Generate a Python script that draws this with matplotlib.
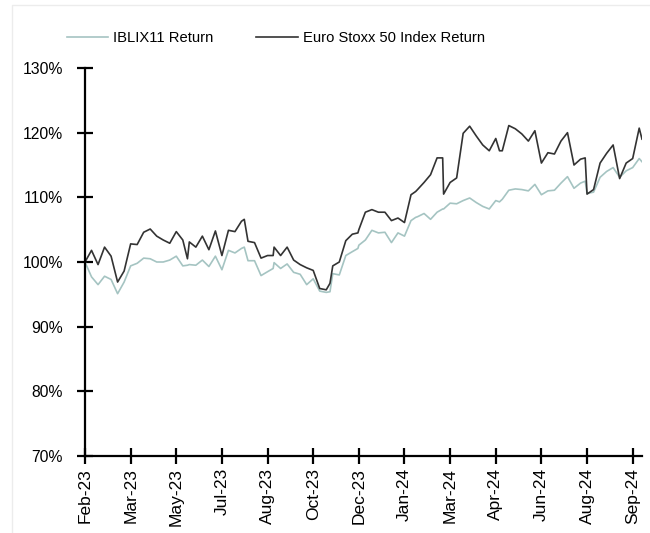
import numpy as np
import pandas as pd
import matplotlib
matplotlib.use("Agg")
import matplotlib.pyplot as plt
import matplotlib.dates as mdates
from matplotlib.ticker import PercentFormatter, MultipleLocator
from matplotlib.patches import Rectangle

plt.rcParams['font.family'] = ['Liberation Sans', 'DejaVu Sans']

# --- weekly (Friday) observations, % of start value ---
week_start = '2023-02-10'
n_weeks = 86

iblix_weekly = [
    100.0, 97.7, 96.5, 97.8, 97.3, 95.1, 96.9, 99.4, 99.8, 100.6,
    100.5, 100.0, 100.0, 100.3, 100.9, 99.4, 99.6, 99.5, 100.3, 99.3,
    100.9, 98.8, 101.8, 101.4, 102.1, 100.2, 100.2, 97.9, 98.5, 99.9,
    99.0, 99.7, 98.4, 98.1, 96.5, 97.4, 95.5, 95.3, 98.2, 98.0,
    101.0, 101.6, 102.6, 103.4, 104.9, 104.5, 104.6, 103.0, 104.5, 104.0,
    106.4, 107.0, 107.5, 106.6, 107.7, 108.2, 109.1, 109.0, 109.5, 109.9,
    109.2, 108.6, 108.2, 109.5, 109.7, 111.1, 111.3, 111.2, 111.0, 112.0,
    110.4, 111.0, 111.1, 112.2, 113.2, 111.4, 112.2, 110.6, 110.8, 113.1,
    114.0, 114.6, 113.1, 114.1, 114.6, 116.0,
]

stoxx_weekly = [
    100.0, 101.8, 99.6, 102.3, 100.9, 96.9, 98.6, 102.8, 102.7, 104.6,
    105.1, 104.0, 103.4, 102.9, 104.7, 103.4, 103.1, 102.3, 104.0, 101.9,
    104.8, 101.0, 104.9, 104.7, 106.3, 103.2, 103.0, 100.6, 101.0, 102.3,
    101.0, 102.3, 100.3, 99.6, 99.1, 98.7, 95.9, 95.7, 99.4, 100.0,
    103.3, 104.3, 105.0, 107.7, 108.1, 107.7, 107.7, 106.4, 106.8, 106.1,
    110.4, 111.2, 112.3, 113.5, 116.1, 110.5, 112.3, 113.0, 119.9, 121.0,
    119.5, 118.1, 117.2, 119.1, 117.2, 121.1, 120.6, 119.8, 118.7, 120.3,
    115.3, 116.9, 116.7, 118.7, 120.0, 115.0, 115.9, 110.5, 111.2, 115.3,
    116.8, 118.1, 112.9, 115.3, 116.0, 120.7,
]

# --- month-end observations that fall between Fridays ---
month_end_dates = [
    '2023-05-31', '2023-07-31', '2023-08-31', '2023-10-31', '2023-11-30',
    '2024-01-31', '2024-02-29', '2024-04-30', '2024-07-31', '2024-09-30',
]
iblix_month_end = [99.5, 102.3, 99.0, 95.4, 102.1, 106.9, 108.2, 109.3, 112.5, 115.5]
stoxx_month_end = [100.5, 106.6, 101.0, 96.7, 104.5, 110.9, 116.1, 117.2, 116.1, 119.0]

week_dates = pd.date_range(week_start, periods=n_weeks, freq='7D')

df = pd.concat([
    pd.DataFrame({'date': week_dates, 'iblix': iblix_weekly, 'stoxx': stoxx_weekly}),
    pd.DataFrame({'date': pd.to_datetime(month_end_dates),
                  'iblix': iblix_month_end, 'stoxx': stoxx_month_end}),
]).sort_values('date').reset_index(drop=True)

tick_dates = week_dates[::7]

fig = plt.figure(figsize=(6.5, 5.33), dpi=100)
fig.patches.append(Rectangle((12 / 650, -0.1), 1.2, 1 - 5 / 533 + 0.1,
                             transform=fig.transFigure, fill=False,
                             edgecolor='#ececec', linewidth=1.0, zorder=0))

ax = fig.add_axes([85 / 650, 1 - 456 / 533, (642 - 85) / 650, (456 - 68) / 533])

ax.plot(df['date'], df['iblix'], color='#a5c4c2', lw=1.2, label='IBLIX11 Return')
ax.plot(df['date'], df['stoxx'], color='#333333', lw=1.2, label='Euro Stoxx 50 Index Return')

ax.set_ylim(70, 130)
ax.yaxis.set_major_locator(MultipleLocator(10))
ax.yaxis.set_major_formatter(PercentFormatter(xmax=100, decimals=0))
ax.set_xlim(week_dates[0], pd.Timestamp('2024-09-30'))
ax.set_xticks(tick_dates)
ax.xaxis.set_major_formatter(mdates.DateFormatter('%b-%y'))

for s in ['top', 'right']:
    ax.spines[s].set_visible(False)
for s in ['left', 'bottom']:
    ax.spines[s].set_linewidth(1.6)
    ax.spines[s].set_color('black')

ax.tick_params(axis='y', direction='inout', length=11, width=1.6, labelsize=11.3, pad=10.5)
ax.tick_params(axis='x', direction='inout', length=11, width=1.6, labelsize=12.5,
               pad=3, rotation=90)

fig.legend(loc='center left', bbox_to_anchor=(67 / 650, 1 - 38.5 / 533), ncol=2,
           frameon=False, fontsize=10.6, borderpad=0, borderaxespad=0,
           handlelength=2.8, handletextpad=0.35, columnspacing=2.9)

fig.savefig('out.png', dpi=100)
